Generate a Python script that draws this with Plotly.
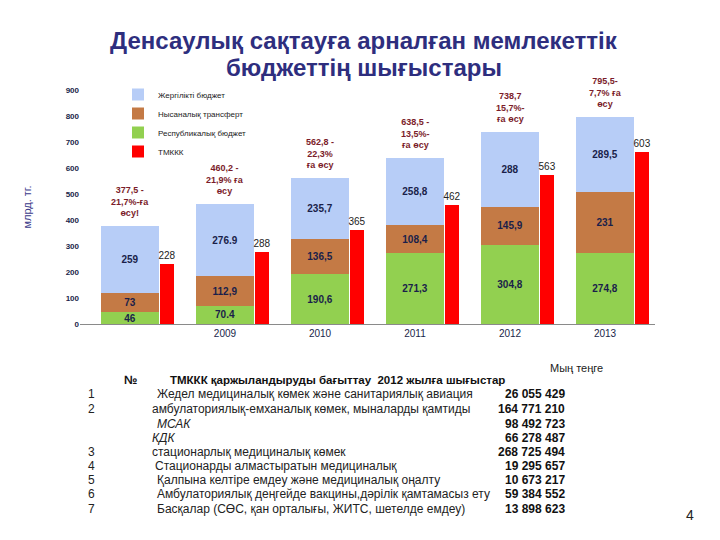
import plotly.graph_objects as go

# ---------------- data ----------------
years = ["2008", "2009", "2010", "2011", "2012", "2013"]
year_ticks = ["", "2009", "2010", "2011", "2012", "2013"]
republic = [46, 70.4, 190.6, 271.3, 304.8, 274.8]      # Республикалық бюджет
transfer = [73, 112.9, 136.5, 108.4, 145.9, 231]        # Нысаналық трансферт
local = [259, 276.9, 235.7, 258.8, 288, 289.5]          # Жергілікті бюджет
republic_txt = ["46", "70.4", "190,6", "271,3", "304,8", "274,8"]
transfer_txt = ["73", "112,9", "136,5", "108,4", "145,9", "231"]
local_txt = ["259", "276.9", "235,7", "258,8", "288", "289,5"]
tmkkk = [230, 276, 363, 458, 573, 660]                  # ТМККК (bar heights)
tmkkk_txt = ["228", "288", "365", "462", "563", "603"]
growth_txt = [
    "377,5 -<br>21,7%-ға<br>өсу!",
    "460,2 -<br>21,9% ға<br>өсу",
    "562,8 -<br>22,3%<br>ға өсу",
    "638,5 -<br>13,5%-<br>ға өсу",
    "738,7<br>15,7%-<br>ға өсу",
    "795,5-<br>7,7% ға<br>өсу",
]

table_nums = ["1", "2", "", "", "3", "4", "5", "6", "7"]
table_items = [
    "Жедел медициналық көмек және санитариялық авиация",
    "амбулаториялық-емханалық көмек, мыналарды қамтиды",
    "<i>МСАК</i>",
    "<i>КДК</i>",
    "стационарлық медициналық көмек",
    "Стационарды алмастыратын медициналық",
    "Қалпына келтіре емдеу және медициналық оңалту",
    "Амбулаториялық деңгейде вакцины,дәрілік қамтамасыз ету",
    "Басқалар (СӨС, қан орталығы, ЖИТС, шетелде емдеу)",
]
table_values = ["26 055 429", "164 771 210", "98 492 723", "66 278 487",
                "268 725 494", "19 295 657", "10 673 217", "59 384 552", "13 898 623"]

# ---------------- layout geometry (page coords; page has an 8px body offset) ----------------
W, H = 720, 540
OFF = 8
L_PAGE, R_PAGE, T_PAGE, B_PAGE = 80, 655, 90, 324
ML, MR, MT, MB = L_PAGE - OFF, W - (R_PAGE - OFF), T_PAGE - OFF, H - (B_PAGE - OFF)
PW, PH = R_PAGE - L_PAGE, B_PAGE - T_PAGE


def px(x, y):
    return (x - L_PAGE) / PW, (B_PAGE - y) / PH


pos = list(range(len(years)))
red_pos = [p + 0.39 for p in pos]

fig = go.Figure()
inner_font = dict(family="Liberation Sans", size=10, color="#1a1f4a")

fig.add_trace(go.Bar(x=pos, y=republic, width=0.62, name="Республикалық бюджет",
                     marker=dict(color="#92D050", line=dict(width=0)),
                     text=["<b>%s</b>" % t for t in republic_txt], textposition="inside",
                     insidetextanchor="middle", textfont=inner_font, textangle=0,
                     constraintext="none", legendrank=3))
fig.add_trace(go.Bar(x=pos, y=transfer, width=0.62, name="Нысаналық трансферт",
                     marker=dict(color="#C47A45", line=dict(width=0)),
                     text=["<b>%s</b>" % t for t in transfer_txt], textposition="inside",
                     insidetextanchor="middle", textfont=inner_font, textangle=0,
                     constraintext="none", legendrank=2))
fig.add_trace(go.Bar(x=pos, y=local, width=0.62, name="Жергілікті бюджет",
                     marker=dict(color="#B7CDF7", line=dict(width=0)),
                     text=["<b>%s</b>" % t for t in local_txt], textposition="inside",
                     insidetextanchor="middle", textfont=inner_font, textangle=0,
                     constraintext="none", legendrank=1))
fig.add_trace(go.Bar(x=red_pos, y=tmkkk, width=0.15, name="ТМККК",
                     marker=dict(color="#FF0000", line=dict(width=0)),
                     text=tmkkk_txt, textposition="outside", cliponaxis=False,
                     textfont=dict(family="Liberation Sans", size=10, color="#222222"),
                     constraintext="none", legendrank=4))

totals = [a + b + c for a, b, c in zip(republic, transfer, local)]
for p, t, g in zip(pos, totals, growth_txt):
    fig.add_annotation(x=p, y=t, xref="x", yref="y", text="<b>%s</b>" % g,
                       showarrow=False, yanchor="bottom", yshift=6,
                       font=dict(family="Liberation Sans", size=9, color="#7B1C2A"),
                       bgcolor="rgba(255,255,255,0.85)")

# title
for text, yy in [("Денсаулық сақтауға арналған мемлекеттік", 40),
                 ("бюджеттің шығыстары", 68)]:
    xx, yp = px(364, yy)
    fig.add_annotation(x=xx, y=yp, xref="paper", yref="paper", text="<b>%s</b>" % text,
                       showarrow=False, xanchor="center", yanchor="middle",
                       font=dict(family="Liberation Sans", size=24, color="#2E2E7E"))

# table
xx, yp = px(548, 368)
fig.add_annotation(x=xx, y=yp, xref="paper", yref="paper", text="Мың теңге",
                   showarrow=False, xanchor="left", yanchor="middle",
                   font=dict(family="Liberation Sans", size=11, color="#222222"))
xx, yp = px(122, 380)
fig.add_annotation(x=xx, y=yp, xref="paper", yref="paper", text="<b>№</b>",
                   showarrow=False, xanchor="left", yanchor="middle",
                   font=dict(family="Liberation Sans", size=12, color="#111111"))
xx, yp = px(168, 380)
fig.add_annotation(x=xx, y=yp, xref="paper", yref="paper",
                   text="<b>ТМККК қаржыландыруды бағыттау  2012 жылға шығыстар</b>",
                   showarrow=False, xanchor="left", yanchor="middle",
                   font=dict(family="Liberation Sans", size=11.5, color="#111111"))

row_y = [394, 409, 424, 438, 452, 466, 480, 494, 509]
row_x = [155, 150, 155, 150, 150, 153, 155, 155, 155]
for n, item, val, ry, rx in zip(table_nums, table_items, table_values, row_y, row_x):
    if n:
        xx, yp = px(86, ry)
        fig.add_annotation(x=xx, y=yp, xref="paper", yref="paper", text=n,
                           showarrow=False, xanchor="left", yanchor="middle",
                           font=dict(family="Liberation Sans", size=12, color="#222222"))
    xx, yp = px(rx, ry)
    fig.add_annotation(x=xx, y=yp, xref="paper", yref="paper", text=item,
                       showarrow=False, xanchor="left", yanchor="middle",
                       font=dict(family="Liberation Sans", size=12, color="#222222"))
    xx, yp = px(567, ry)
    fig.add_annotation(x=xx, y=yp, xref="paper", yref="paper", text="<b>%s</b>" % val,
                       showarrow=False, xanchor="right", yanchor="middle",
                       font=dict(family="Liberation Sans", size=12, color="#111111"))

xx, yp = px(690, 515)
fig.add_annotation(x=xx, y=yp, xref="paper", yref="paper", text="4",
                   showarrow=False, xanchor="center", yanchor="middle",
                   font=dict(family="Liberation Sans", size=14, color="#222222"))

lx, ly = px(118, 80)
fig.update_layout(
    width=W, height=H,
    margin=dict(l=ML, r=MR, t=MT, b=MB, autoexpand=False),
    barmode="stack",
    paper_bgcolor="white", plot_bgcolor="white",
    showlegend=True,
    legend=dict(x=lx, y=ly, xanchor="left", yanchor="top", traceorder="normal",
                font=dict(family="Liberation Sans", size=8, color="#222222"),
                bgcolor="rgba(0,0,0,0)", tracegroupgap=0, itemwidth=30),
    xaxis=dict(range=[-0.526, 5.526], tickmode="array", tickvals=pos, ticktext=year_ticks,
               showline=True, linecolor="#8a8a8a", linewidth=1, showgrid=False, zeroline=False,
               ticks="", tickfont=dict(family="Liberation Sans", size=10, color="#1a1f4a"),
               tickprefix="<b>", ticksuffix="</b>"),
    yaxis=dict(range=[0, 900], dtick=100, showgrid=False, zeroline=False, showline=False,
               ticks="", tickfont=dict(family="Liberation Sans", size=8, color="#1a1f4a"),
               tickprefix="<b>", ticksuffix="</b>",
               title=dict(text="млрд. тг.", standoff=31,
                          font=dict(family="Liberation Sans", size=11, color="#3A3A8A"))),
)

fig.write_html("out.html")
